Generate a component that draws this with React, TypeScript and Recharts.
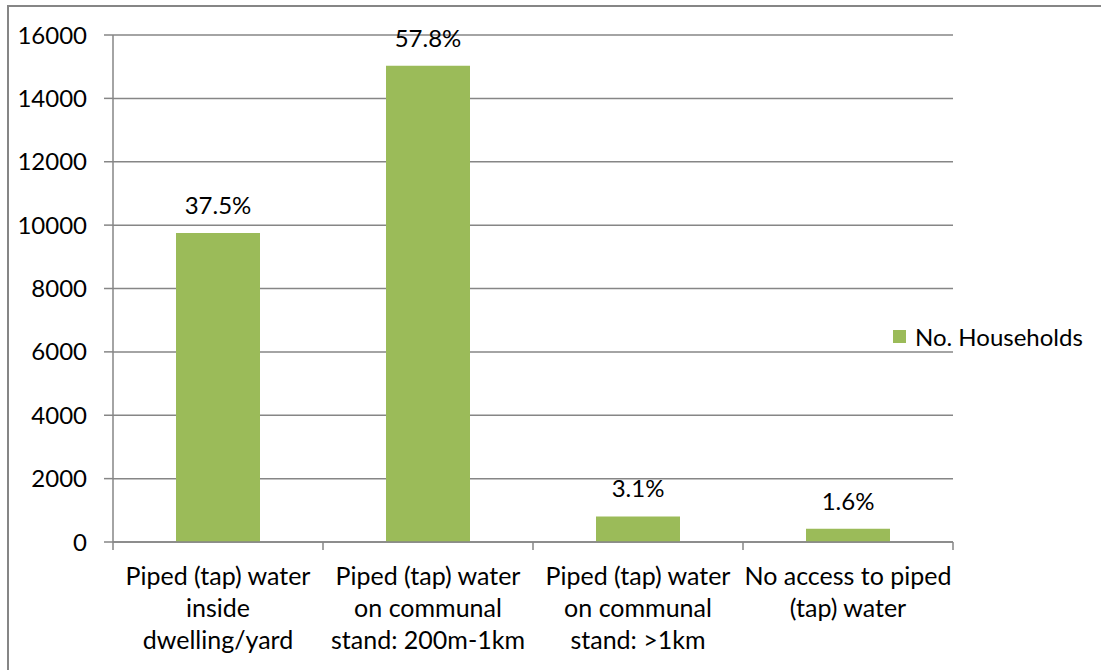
import { BarChart, Bar, XAxis, YAxis, CartesianGrid, Legend, LabelList } from 'recharts';

const categories = [
  'Piped (tap) water\ninside\ndwelling/yard',
  'Piped (tap) water\non communal\nstand: 200m-1km',
  'Piped (tap) water\non communal\nstand: >1km',
  'No access to piped\n(tap) water',
];
const households = [9751, 15030, 806, 416];
const yTicks = [0, 2000, 4000, 6000, 8000, 10000, 12000, 14000, 16000];
const seriesName = 'No. Households';

const FONT = 'Lato, "Liberation Sans", sans-serif';
const FONT_SIZE = 24;
const GREEN = '#9BBB59';
const GREY = '#868686';

const data = categories.map((name, i) => ({ name, households: households[i] }));
const total = households.reduce((a, b) => a + b, 0);
const pct = (v: any) => `${((Number(v) / total) * 100).toFixed(1)}%`;

// category label with the tick marks drawn between categories (Excel style)
function CategoryTick(props: any) {
  const { x, y, payload, index, visibleTicksCount } = props;
  const half = payload.offset ?? 0;
  const axisY = y - 10;
  const lines = String(payload.value).split('\n');
  return (
    <g>
      <line x1={x - half} x2={x - half} y1={axisY} y2={axisY + 8} stroke={GREY} strokeWidth={1.5} />
      {index === visibleTicksCount - 1 && (
        <line x1={x + half} x2={x + half} y1={axisY} y2={axisY + 8} stroke={GREY} strokeWidth={1.5} />
      )}
      <text x={x} y={y} textAnchor="middle" fontSize={25} fontFamily={FONT} fill="#000">
        {lines.map((l, i) => (
          <tspan key={i} x={x} dy={i === 0 ? 33 : 32}>
            {l}
          </tspan>
        ))}
      </text>
    </g>
  );
}

function LegendBox(props: any) {
  const items = props.payload || [];
  return (
    <div>
      {items.map((it: any) => (
        <div key={it.value} style={{ display: 'flex', alignItems: 'center', fontFamily: FONT, fontSize: FONT_SIZE, color: '#000' }}>
          <span style={{ width: 13, height: 13, background: it.color, marginRight: 9, display: 'inline-block' }} />
          <span>{it.value}</span>
        </div>
      ))}
    </div>
  );
}

export default function App() {
  return (
    <div style={{ position: 'absolute', top: 0, left: 0, width: 1101, height: 670, overflow: 'hidden', background: '#fff' }}>
      <div
        style={{
          position: 'absolute',
          left: 7,
          top: 5,
          width: 1110,
          height: 680,
          border: `2px solid ${GREY}`,
          boxSizing: 'border-box',
        }}
      />
      <BarChart
        width={1101}
        height={670}
        data={data}
        margin={{ top: 35, right: 148, bottom: 0, left: 0 }}
        barCategoryGap="30%"
        style={{ fontFamily: FONT }}
      >
        <CartesianGrid vertical={false} stroke={GREY} strokeWidth={1.5} />
        <XAxis
          dataKey="name"
          height={128}
          interval={0}
          tickLine={false}
          tickSize={8}
          tickMargin={2}
          axisLine={{ stroke: GREY, strokeWidth: 1.5 }}
          tick={<CategoryTick />}
        />
        <YAxis
          width={113}
          domain={[0, 16000]}
          ticks={yTicks}
          interval={0}
          tickSize={9}
          tickMargin={17}
          axisLine={{ stroke: GREY, strokeWidth: 1.5 }}
          tickLine={{ stroke: GREY, strokeWidth: 1.5 }}
          tick={{ fill: '#000', fontSize: FONT_SIZE, fontFamily: FONT }}
        />
        <Legend
          layout="vertical"
          align="center"
          verticalAlign="middle"
          wrapperStyle={{ left: 893, top: 322, width: 205 }}
          content={<LegendBox />}
        />
        <Bar dataKey="households" name={seriesName} fill={GREEN} isAnimationActive={false}>
          <LabelList
            dataKey="households"
            position="top"
            offset={19}
            formatter={pct}
            fill="#000"
            fontSize={FONT_SIZE}
            fontFamily={FONT}
          />
        </Bar>
      </BarChart>
    </div>
  );
}
